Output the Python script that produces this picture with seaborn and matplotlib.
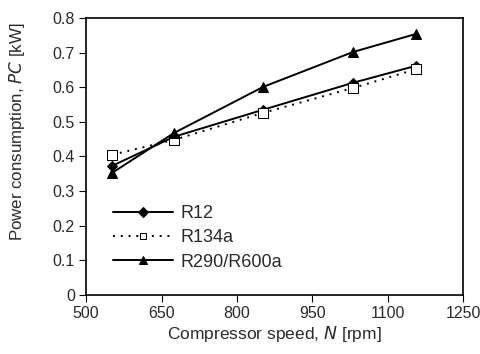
import matplotlib
matplotlib.use("Agg")
import matplotlib.pyplot as plt
import seaborn as sns
import pandas as pd

speed = [552, 675, 852, 1031, 1156]
r12 = [0.373, 0.457, 0.535, 0.613, 0.662]
r134a = [0.405, 0.448, 0.526, 0.598, 0.652]
r290 = [0.353, 0.468, 0.601, 0.702, 0.754]

df = pd.DataFrame({"speed": speed * 3,
                   "pc": r12 + r134a + r290,
                   "ref": ["R12"] * 5 + ["R134a"] * 5 + ["R290/R600a"] * 5})

sns.set_style("ticks")
plt.rcParams["font.family"] = ["Liberation Sans", "DejaVu Sans"]
txt = "#2a2a2a"

fig, ax = plt.subplots(figsize=(4.81, 3.54), dpi=100)
sns.lineplot(data=df, x="speed", y="pc", hue="ref", style="ref",
             palette=["black", "black", "black"],
             markers={"R12": "D", "R134a": "s", "R290/R600a": "^"},
             dashes={"R12": "", "R134a": (1, 3), "R290/R600a": ""},
             linewidth=1.4, ax=ax, legend=True)

for line, mfc, ms in zip(ax.lines[:3], ["black", "white", "black"], [5, 7, 7]):
    line.set_markerfacecolor(mfc)
    line.set_markeredgecolor("black")
    line.set_markersize(ms)

ax.set_xlim(500, 1250)
ax.set_ylim(0, 0.8)
ax.set_xticks([500, 650, 800, 950, 1100, 1250])
ax.set_yticks([0, 0.1, 0.2, 0.3, 0.4, 0.5, 0.6, 0.7, 0.8])
ax.set_yticklabels(["0", "0.1", "0.2", "0.3", "0.4", "0.5", "0.6", "0.7", "0.8"])
ax.tick_params(labelsize=11.5, direction="out", length=5, color="black",
               labelcolor=txt, pad=3)
for s in ax.spines.values():
    s.set_color("black")
    s.set_linewidth(1.2)
ax.set_xlabel("Compressor speed, $\\it{N}$ [rpm]", fontsize=12.5, color=txt, labelpad=2)
ax.set_ylabel("Power consumption, $\\it{PC}$ [kW]", fontsize=12.2, color=txt)
ax.yaxis.set_label_coords(-0.157, 0.59)

leg = ax.legend(loc="center left", frameon=False, fontsize=13,
                bbox_to_anchor=(0.072, 0.206), handlelength=3.3,
                handletextpad=0.4, labelspacing=0.4, borderpad=0,
                borderaxespad=0)
for h, mfc, ms in zip(leg.legend_handles, ["black", "white", "black"], [5, 5, 6]):
    h.set_markerfacecolor(mfc)
    h.set_markeredgecolor("black")
    h.set_markersize(ms)
for t in leg.get_texts():
    t.set_color(txt)

fig.subplots_adjust(left=0.179, right=0.963, top=0.949, bottom=0.167)
fig.savefig("out.png", dpi=100)
